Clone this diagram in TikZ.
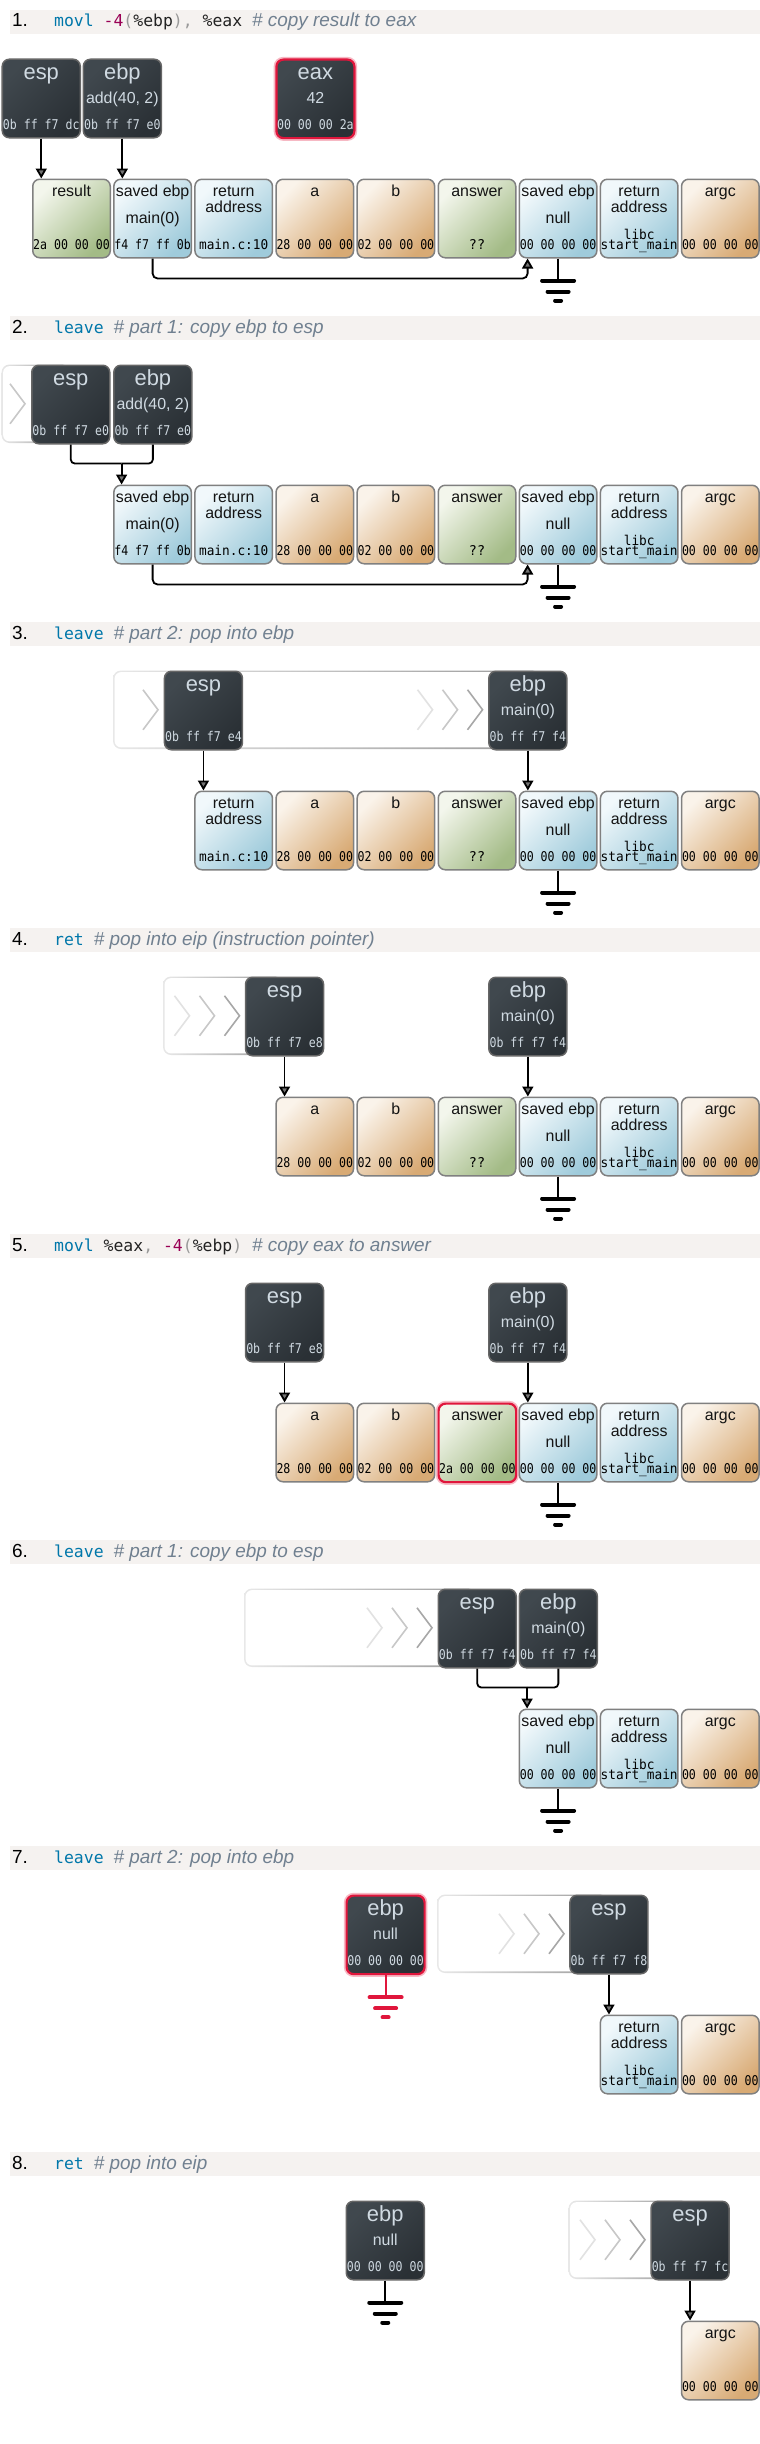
\documentclass[tikz,border=0pt]{standalone}
\usepackage{fontspec}
\setmainfont{Liberation Sans}
\newfontfamily\monof{DejaVu Sans Mono}
\usepackage{graphicx}
\usetikzlibrary{arrows.meta}
\definecolor{codebg}{HTML}{F5F2F0}
\definecolor{kw}{HTML}{0077AA}
\definecolor{num}{HTML}{990055}
\definecolor{pun}{HTML}{999999}
\definecolor{cmt}{HTML}{708090}
\definecolor{txc}{HTML}{222222}
\definecolor{grnA}{HTML}{F3F6EC}
\definecolor{grnB}{HTML}{A3BB86}
\definecolor{bluA}{HTML}{F1F8FB}
\definecolor{bluB}{HTML}{9FCBDB}
\definecolor{tanA}{HTML}{FAF3EA}
\definecolor{tanB}{HTML}{D8AA74}
\definecolor{regA}{HTML}{40484E}
\definecolor{regB}{HTML}{2A3035}
\definecolor{regtxt}{HTML}{D0DAE2}
\definecolor{cellbd}{HTML}{808080}
\definecolor{regbd}{HTML}{666666}
\definecolor{hot}{HTML}{E0163C}
\definecolor{trA}{HTML}{E8E8E8}
\definecolor{trB}{HTML}{9A9A9A}
\definecolor{chA}{HTML}{E2E2E2}
\definecolor{chB}{HTML}{C8C8C8}
\definecolor{chC}{HTML}{A8A8A8}
\newcommand\hx[1]{\scalebox{0.86}[1]{#1}}
\newcommand\hy[1]{\scalebox{0.95}[1]{#1}}
\newcommand\Ckw[1]{{\color{kw}#1}}
\newcommand\Cnum[1]{{\color{num}#1}}
\newcommand\Cpun[1]{{\color{pun}#1}}
\newcommand\Ctx[1]{{\color{txc}#1}}
\newcommand\Ccmt[1]{{\normalfont\itshape\fontsize{19}{19}\selectfont\color{cmt}#1}}
\tikzset{
  cellbox/.style={draw=cellbd,line width=1.5bp,rounded corners=7bp,minimum width=77.5bp,minimum height=78.5bp,inner sep=0pt,anchor=north west},
  grn/.style={top color=grnA,bottom color=grnB,shading angle=45},
  blu/.style={top color=bluA,bottom color=bluB,shading angle=45},
  tanc/.style={top color=tanA,bottom color=tanB,shading angle=45},
  hotbd/.style={draw=hot,line width=2.2bp,preaction={draw=hot!30,line width=5.5bp}},
  regbox/.style={draw=regbd,line width=1.5bp,rounded corners=7bp,minimum width=78bp,minimum height=78.5bp,inner sep=0pt,anchor=north west,top color=regA,bottom color=regB,shading angle=45},
  ctxt/.style={anchor=base,inner sep=0pt,font=\fontsize{16}{16}\selectfont,text=black!92},
  htxt/.style={anchor=base,inner sep=0pt,font=\monof\fontsize{13.5}{13.5}\selectfont,text=black},
  rtitle/.style={anchor=base,inner sep=0pt,font=\fontsize{22}{22}\selectfont,text=regtxt},
  rmid/.style={anchor=base,inner sep=0pt,font=\fontsize{16}{16}\selectfont,text=regtxt},
  rhex/.style={anchor=base,inner sep=0pt,font=\monof\fontsize{13.5}{13.5}\selectfont,text=regtxt},
  numtxt/.style={anchor=base west,inner sep=0pt,font=\fontsize{19}{19}\selectfont,text=black},
  codetxt/.style={anchor=base west,inner sep=0pt,font=\monof\fontsize{16.5}{16.5}\selectfont},
  ln/.style={draw=black,line width=1.8bp},
  ptr/.style={ln,-{Triangle[length=10bp,width=11bp,fill=black!55]}},
  gstem/.style={line width=1.8bp},
  gbar/.style={line width=4bp,line cap=round},
  chevst/.style={line width=1.6bp},
}
\newcommand\SecBar[4]{%
  \fill[codebg] (10,#2) rectangle (760,#2+24);
  \node[numtxt] (#1-n) at (12,#2+17) {#3};
  \node[codetxt] (#1-c) at (54,#2+17) {#4};}
\newcommand\MkCell[4]{\node[cellbox,#4] (#1) at (#2,#3) {};}
\newcommand\CLab[2]{\node[ctxt] (#1-l) at ([yshift=-18bp]#1.north) {#2};}
\newcommand\CLabB[2]{\node[ctxt] (#1-lb) at ([yshift=-34bp]#1.north) {#2};}
\newcommand\CMid[2]{\node[ctxt] (#1-m) at ([yshift=-45bp]#1.north) {#2};}
\newcommand\CHex[2]{\node[htxt] (#1-h) at ([yshift=-71bp]#1.north) {#2};}
\newcommand\CHexU[2]{\node[htxt] (#1-hu) at ([yshift=-61bp]#1.north) {#2};}
\newcommand\CellRes[3]{\MkCell{#1}{#2}{#3}{grn}\CLab{#1}{result}\CHex{#1}{\hx{2a 00 00 00}}}
\newcommand\CellSeb[5]{\MkCell{#1}{#2}{#3}{blu}\CLab{#1}{saved ebp}\CMid{#1}{#4}\CHex{#1}{\hx{#5}}}
\newcommand\CellRetM[3]{\MkCell{#1}{#2}{#3}{blu}\CLab{#1}{return}\CLabB{#1}{address}\CHex{#1}{\hy{main.c:10}}}
\newcommand\CellRetL[3]{\MkCell{#1}{#2}{#3}{blu}\CLab{#1}{return}\CLabB{#1}{address}\CHexU{#1}{\hy{libc}}\CHex{#1}{\hy{start\_main}}}
\newcommand\CellTan[5]{\MkCell{#1}{#2}{#3}{tanc}\CLab{#1}{#4}\CHex{#1}{\hx{#5}}}
\newcommand\CellAns[5]{\MkCell{#1}{#2}{#3}{grn,#5}\CLab{#1}{answer}\CHex{#1}{#4}}
\newcommand\RegM[7]{\node[regbox,#7] (#1) at (#2,#3) {};
  \node[rtitle] (#1-t) at ([yshift=-21bp]#1.north) {#4};
  \node[rmid] (#1-m) at ([yshift=-45bp]#1.north) {#5};
  \node[rhex] (#1-h) at ([yshift=-71bp]#1.north) {\hx{#6}};}
\newcommand\RegN[5]{\node[regbox] (#1) at (#2,#3) {};
  \node[rtitle] (#1-t) at ([yshift=-21bp]#1.north) {#4};
  \node[rhex] (#1-h) at ([yshift=-71bp]#1.north) {\hx{#5}};}
\newcommand\Ground[2]{%
  \draw[gstem,#2] (#1) -- ++(0,22);
  \draw[gbar,#2] ([xshift=-16bp,yshift=-22bp]#1) -- ++(32,0);
  \draw[gbar,#2] ([xshift=-10.5bp,yshift=-33bp]#1) -- ++(21,0);
  \draw[gbar,#2] ([xshift=-3bp,yshift=-42bp]#1) -- ++(6,0);}
\newcommand\Trail[3]{%
  \shade[left color=trA,right color=trB,rounded corners=8bp] (#1,#3) rectangle (#2,#3+78.5);
  \fill[white,rounded corners=6.5bp] (#1+1.6,#3+1.6) rectangle (#2-1.6,#3+76.9);}
\newcommand\Chev[3]{\draw[chevst,draw=#3] (#1-15,#2-20) -- (#1,#2) -- (#1-15,#2+20);}
\newcommand\Chevs[2]{\Chev{#1-50}{#2}{chA}\Chev{#1-25}{#2}{chB}\Chev{#1}{#2}{chC}}
\begin{document}
\begin{tikzpicture}[x=1bp,y=-1bp]
\useasboundingbox (0,0) rectangle (760,2444);
% ================= 1
\SecBar{t1}{10}{1.}{\Ckw{movl} \Cnum{-4}\Cpun{(}\Ctx{\%ebp}\Cpun{),} \Ctx{\%eax} \Ccmt{\# copy result to eax}}
\RegN{esp1}{1.5}{58.5}{esp}{0b ff f7 dc}
\RegM{ebp1}{82.6}{58.5}{ebp}{add(40, 2)}{0b ff f7 e0}{}
\RegM{eax1}{275.3}{58.5}{eax}{42}{00 00 00 2a}{hotbd}
\CellRes{c1-0}{32}{178.5}
\CellSeb{c1-1}{113.1}{178.5}{main(0)}{f4 f7 ff 0b}
\CellRetM{c1-2}{194.2}{178.5}
\CellTan{c1-3}{275.3}{178.5}{a}{28 00 00 00}
\CellTan{c1-4}{356.4}{178.5}{b}{02 00 00 00}
\CellAns{c1-5}{437.5}{178.5}{??}{}
\CellSeb{c1-6}{518.6}{178.5}{null}{00 00 00 00}
\CellRetL{c1-7}{599.7}{178.5}
\CellTan{c1-8}{680.8}{178.5}{argc}{00 00 00 00}
\draw[ptr] (esp1.south) -- (esp1.south |- c1-0.north);
\draw[ptr] (ebp1.south) -- (ebp1.south |- c1-1.north);
\draw[ptr,rounded corners=5bp] (c1-1.south) -- ++(0,20) -| ([xshift=-30.5bp]c1-6.south);
\Ground{c1-6.south}{black}
% ================= 2
\SecBar{t2}{316}{2.}{\Ckw{leave} \Ccmt{\# part 1: copy ebp to esp}}
\Trail{1.5}{70}{364.5}
\Chev{25}{403.75}{chB}
\RegN{esp2}{31}{364.5}{esp}{0b ff f7 e0}
\RegM{ebp2}{113.1}{364.5}{ebp}{add(40, 2)}{0b ff f7 e0}{}
\CellSeb{c2-1}{113.1}{484.5}{main(0)}{f4 f7 ff 0b}
\CellRetM{c2-2}{194.2}{484.5}
\CellTan{c2-3}{275.3}{484.5}{a}{28 00 00 00}
\CellTan{c2-4}{356.4}{484.5}{b}{02 00 00 00}
\CellAns{c2-5}{437.5}{484.5}{??}{}
\CellSeb{c2-6}{518.6}{484.5}{null}{00 00 00 00}
\CellRetL{c2-7}{599.7}{484.5}
\CellTan{c2-8}{680.8}{484.5}{argc}{00 00 00 00}
\coordinate (m2) at (121.6,463.5);
\draw[ln,rounded corners=4bp] (esp2.south) |- (m2);
\draw[ln,rounded corners=4bp] (ebp2.south) |- (m2);
\draw[ptr] (m2) -- (m2 |- c2-1.north);
\draw[ptr,rounded corners=5bp] (c2-1.south) -- ++(0,20) -| ([xshift=-30.5bp]c2-6.south);
\Ground{c2-6.south}{black}
% ================= 3
\SecBar{t3}{622}{3.}{\Ckw{leave} \Ccmt{\# part 2: pop into ebp}}
\Trail{113}{540}{670.5}
\Chev{158}{709.75}{chB}
\Chevs{482.5}{709.75}
\RegN{esp3}{163.7}{670.5}{esp}{0b ff f7 e4}
\RegM{ebp3}{488.1}{670.5}{ebp}{main(0)}{0b ff f7 f4}{}
\CellRetM{c3-2}{194.2}{790.5}
\CellTan{c3-3}{275.3}{790.5}{a}{28 00 00 00}
\CellTan{c3-4}{356.4}{790.5}{b}{02 00 00 00}
\CellAns{c3-5}{437.5}{790.5}{??}{}
\CellSeb{c3-6}{518.6}{790.5}{null}{00 00 00 00}
\CellRetL{c3-7}{599.7}{790.5}
\CellTan{c3-8}{680.8}{790.5}{argc}{00 00 00 00}
\draw[ptr] (esp3.south) -- (esp3.south |- c3-2.north);
\draw[ptr] (ebp3.south) -- (ebp3.south |- c3-6.north);
\Ground{c3-6.south}{black}
% ================= 4
\SecBar{t4}{928}{4.}{\Ckw{ret} \Ccmt{\# pop into eip (instruction pointer)}}
\Trail{163}{283}{976.5}
\Chevs{239.5}{1015.75}
\RegN{esp4}{244.8}{976.5}{esp}{0b ff f7 e8}
\RegM{ebp4}{488.1}{976.5}{ebp}{main(0)}{0b ff f7 f4}{}
\CellTan{c4-3}{275.3}{1096.5}{a}{28 00 00 00}
\CellTan{c4-4}{356.4}{1096.5}{b}{02 00 00 00}
\CellAns{c4-5}{437.5}{1096.5}{??}{}
\CellSeb{c4-6}{518.6}{1096.5}{null}{00 00 00 00}
\CellRetL{c4-7}{599.7}{1096.5}
\CellTan{c4-8}{680.8}{1096.5}{argc}{00 00 00 00}
\draw[ptr] (esp4.south) -- (esp4.south |- c4-3.north);
\draw[ptr] (ebp4.south) -- (ebp4.south |- c4-6.north);
\Ground{c4-6.south}{black}
% ================= 5
\SecBar{t5}{1234}{5.}{\Ckw{movl} \Ctx{\%eax}\Cpun{,} \Cnum{-4}\Cpun{(}\Ctx{\%ebp}\Cpun{)} \Ccmt{\# copy eax to answer}}
\RegN{esp5}{244.8}{1282.5}{esp}{0b ff f7 e8}
\RegM{ebp5}{488.1}{1282.5}{ebp}{main(0)}{0b ff f7 f4}{}
\CellTan{c5-3}{275.3}{1402.5}{a}{28 00 00 00}
\CellTan{c5-4}{356.4}{1402.5}{b}{02 00 00 00}
\CellAns{c5-5}{437.5}{1402.5}{\hx{2a 00 00 00}}{hotbd}
\CellSeb{c5-6}{518.6}{1402.5}{null}{00 00 00 00}
\CellRetL{c5-7}{599.7}{1402.5}
\CellTan{c5-8}{680.8}{1402.5}{argc}{00 00 00 00}
\draw[ptr] (esp5.south) -- (esp5.south |- c5-3.north);
\draw[ptr] (ebp5.south) -- (ebp5.south |- c5-6.north);
\Ground{c5-6.south}{black}
% ================= 6
\SecBar{t6}{1540}{6.}{\Ckw{leave} \Ccmt{\# part 1: copy ebp to esp}}
\Trail{244}{476}{1588.5}
\Chevs{432}{1627.75}
\RegN{esp6}{437.5}{1588.5}{esp}{0b ff f7 f4}
\RegM{ebp6}{518.6}{1588.5}{ebp}{main(0)}{0b ff f7 f4}{}
\CellSeb{c6-6}{518.6}{1708.5}{null}{00 00 00 00}
\CellRetL{c6-7}{599.7}{1708.5}
\CellTan{c6-8}{680.8}{1708.5}{argc}{00 00 00 00}
\coordinate (m6) at (527.1,1687.5);
\draw[ln,rounded corners=4bp] (esp6.south) |- (m6);
\draw[ln,rounded corners=4bp] (ebp6.south) |- (m6);
\draw[ptr] (m6) -- (m6 |- c6-6.north);
\Ground{c6-6.south}{black}
% ================= 7
\SecBar{t7}{1846}{7.}{\Ckw{leave} \Ccmt{\# part 2: pop into ebp}}
\RegM{ebp7}{345.5}{1894.5}{ebp}{null}{00 00 00 00}{hotbd}
\Ground{ebp7.south}{hot}
\Trail{437}{608}{1894.5}
\Chevs{564}{1933.75}
\RegN{esp7}{569.2}{1894.5}{esp}{0b ff f7 f8}
\CellRetL{c7-7}{599.7}{2014.5}
\CellTan{c7-8}{680.8}{2014.5}{argc}{00 00 00 00}
\draw[ptr] (esp7.south) -- (esp7.south |- c7-7.north);
% ================= 8
\SecBar{t8}{2152}{8.}{\Ckw{ret} \Ccmt{\# pop into eip}}
\RegM{ebp8}{345.5}{2200.5}{ebp}{null}{00 00 00 00}{}
\Ground{ebp8.south}{black}
\Trail{568.5}{689}{2200.5}
\Chevs{645}{2239.75}
\RegN{esp8}{650.3}{2200.5}{esp}{0b ff f7 fc}
\CellTan{c8-8}{680.8}{2320.5}{argc}{00 00 00 00}
\draw[ptr] (esp8.south) -- (esp8.south |- c8-8.north);
\end{tikzpicture}
\end{document}
